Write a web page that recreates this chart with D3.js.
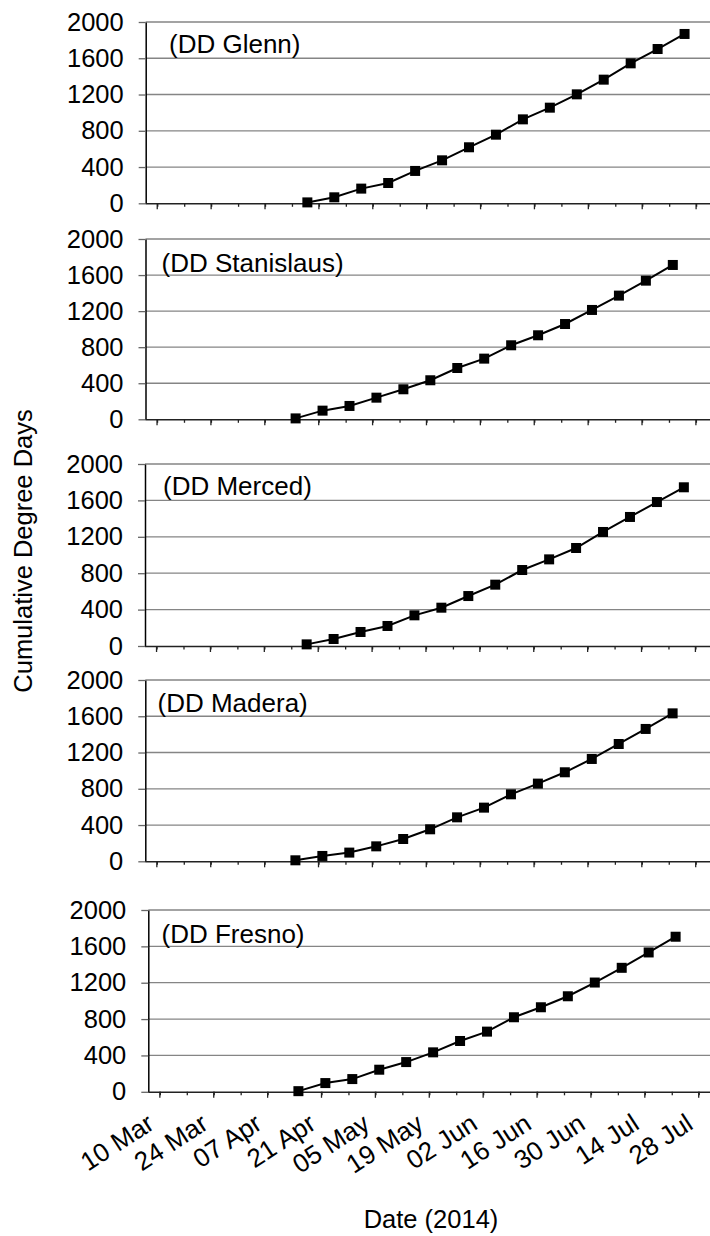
<!DOCTYPE html>
<html>
<head>
<meta charset="utf-8">
<script src="https://cdn.jsdelivr.net/npm/d3@7"></script>
<style>
  body { margin: 0; background: #fff; }
  text { font-family: "Liberation Sans", Arial, sans-serif; fill: #000; }
</style>
</head>
<body>
<svg id="chart" width="710" height="1236"></svg>
<script>
// data
const sites = ["Glenn", "Stanislaus", "Merced", "Madera", "Fresno"];
const datesA = ["2014-04-18", "2014-04-25", "2014-05-02", "2014-05-09", "2014-05-16",
  "2014-05-23", "2014-05-30", "2014-06-06", "2014-06-13", "2014-06-20",
  "2014-06-27", "2014-07-04", "2014-07-11", "2014-07-18", "2014-07-25"];
const datesB = ["2014-04-15", "2014-04-22", "2014-04-29", "2014-05-06", "2014-05-13",
  "2014-05-20", "2014-05-27", "2014-06-03", "2014-06-10", "2014-06-17",
  "2014-06-24", "2014-07-01", "2014-07-08", "2014-07-15", "2014-07-22"];
const glenn = [10, 66, 162, 224, 357, 474, 618, 757, 926, 1055, 1202, 1364, 1544, 1702, 1868];
const stanislaus = [10, 96, 148, 240, 333, 433, 569, 673, 821, 932, 1057, 1213, 1372, 1538, 1712];
const merced = [18, 77, 154, 220, 337, 421, 549, 674, 835, 952, 1077, 1253, 1418, 1582, 1744];
const madera = [11, 59, 96, 165, 246, 353, 485, 592, 739, 857, 982, 1129, 1294, 1460, 1632];
const fresno = [7, 96, 140, 243, 327, 434, 559, 662, 820, 930, 1051, 1202, 1364, 1533, 1706];
const seriesDates = [datesA, datesB, datesA, datesB, datesB];
const seriesValues = [glenn, stanislaus, merced, madera, fresno];

const yTicks = [0, 400, 800, 1200, 1600, 2000];
const xTickDates = ["2014-03-10", "2014-03-24", "2014-04-07", "2014-04-21", "2014-05-05",
  "2014-05-19", "2014-06-02", "2014-06-16", "2014-06-30", "2014-07-14", "2014-07-28"];
const xTickLabels = ["10 Mar", "24 Mar", "07 Apr", "21 Apr", "05 May", "19 May",
  "02 Jun", "16 Jun", "30 Jun", "14 Jul", "28 Jul"];
const xDomain = ["2014-03-07", "2014-08-02"];

// layout of the five stacked panels
const panels = [
  { top: 22, bottom: 203.3, left: 145.7, labelX: 169, labelDy: 31 },
  { top: 239, bottom: 419.3, left: 145.5, labelX: 161.5, labelDy: 32.5 },
  { top: 464, bottom: 646, left: 145, labelX: 163, labelDy: 30.5 },
  { top: 680, bottom: 861.3, left: 145.3, labelX: 157.5, labelDy: 31.5 },
  { top: 910, bottom: 1091.8, left: 148.3, labelX: 161.5, labelDy: 33 }
];
const pxPerDay = 3.849;

const parse = d3.utcParse("%Y-%m-%d");
const svg = d3.select("#chart");

panels.forEach(function (p, i) {
  const d0 = parse(xDomain[0]), d1 = parse(xDomain[1]);
  const days = (d1 - d0) / 864e5;
  const x = d3.scaleUtc().domain([d0, d1]).range([p.left, p.left + days * pxPerDay]);
  const y = d3.scaleLinear().domain([0, 2000]).range([p.bottom, p.top]);
  const g = svg.append("g");

  // gridlines
  g.selectAll("line.grid")
    .data(yTicks.filter(v => v > 0))
    .join("line")
    .attr("x1", p.left).attr("x2", 720)
    .attr("y1", d => y(d)).attr("y2", d => y(d))
    .attr("stroke", "#858585").attr("stroke-width", 1.3);

  // y axis
  const yAxis = g.append("g")
    .attr("transform", `translate(${p.left},0)`)
    .call(d3.axisLeft(y).tickValues(yTicks).tickFormat(d3.format("d"))
      .tickSize(7).tickPadding(15).tickSizeOuter(0));
  yAxis.select(".domain").attr("stroke", "#000").attr("stroke-width", 1.5);
  yAxis.selectAll(".tick line").attr("stroke", "#666").attr("stroke-width", 1.3);
  yAxis.selectAll(".tick text")
    .style("font-size", "25.5px")
    .style("font-family", '"Liberation Sans", Arial, sans-serif');

  // x axis: major ticks every 2 weeks, minor every week
  const minor = d3.utcDay.range(parse(xTickDates[0]), d1, 7);
  const xAxis = g.append("g")
    .attr("transform", `translate(0,${p.bottom})`)
    .call(d3.axisBottom(x).tickValues(minor).tickSize(3.5).tickFormat("").tickSizeOuter(0));
  xAxis.select(".domain").attr("stroke", "#222").attr("stroke-width", 1.4)
    .attr("d", `M${p.left},0.5H720`);
  xAxis.selectAll(".tick line").attr("stroke", "#222").attr("stroke-width", 1.3);
  const major = xTickDates.map(parse);
  g.append("g").selectAll("line")
    .data(major)
    .join("line")
    .attr("x1", d => x(d)).attr("x2", d => x(d))
    .attr("y1", p.bottom).attr("y2", p.bottom + 6)
    .attr("stroke", "#222").attr("stroke-width", 1.3);

  if (i === panels.length - 1) {
    g.append("g").selectAll("text")
      .data(major)
      .join("text")
      .attr("transform", d => `translate(${x(d) - 4},${p.bottom + 36}) rotate(-33)`)
      .attr("text-anchor", "end")
      .style("font-size", "26px")
      .text((d, k) => xTickLabels[k]);
  }

  // series line and square markers
  const pts = seriesDates[i].map((d, k) => ({ date: parse(d), value: seriesValues[i][k] }));
  g.append("path")
    .datum(pts)
    .attr("fill", "none")
    .attr("stroke", "#000")
    .attr("stroke-width", 2)
    .attr("d", d3.line().x(d => x(d.date)).y(d => y(d.value)));
  g.selectAll("rect.mk")
    .data(pts)
    .join("rect")
    .attr("x", d => x(d.date) - 5)
    .attr("y", d => y(d.value) - 5)
    .attr("width", 10).attr("height", 10)
    .attr("fill", "#000");

  // panel label
  g.append("text")
    .attr("x", p.labelX)
    .attr("y", p.top + p.labelDy)
    .style("font-size", "26px")
    .text("(DD " + sites[i] + ")");
});

// axis titles
svg.append("text")
  .attr("transform", "translate(32,551) rotate(-90)")
  .attr("text-anchor", "middle")
  .style("font-size", "25.5px")
  .text("Cumulative Degree Days");

svg.append("text")
  .attr("x", 431)
  .attr("y", 1228)
  .attr("text-anchor", "middle")
  .style("font-size", "25.5px")
  .text("Date (2014)");
</script>
</body>
</html>
